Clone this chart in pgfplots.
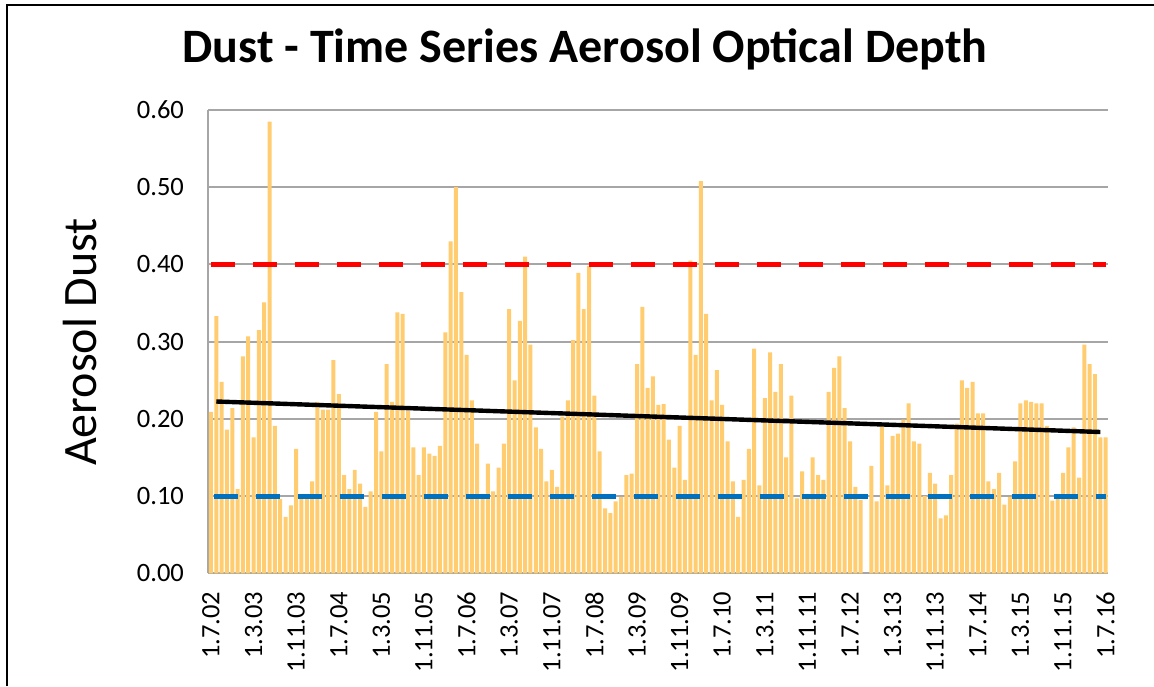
\documentclass[border=0pt]{standalone}
\usepackage{pgfplots}
\pgfplotsset{compat=1.18}
\usepackage{pgfplotstable}
\usepackage{fontspec}
\setmainfont{Carlito}
\definecolor{barcol}{RGB}{255,205,112}
\definecolor{gridgray}{RGB}{166,166,166}
\definecolor{blueline}{RGB}{0,112,192}
\definecolor{redline}{RGB}{255,0,0}
\pgfplotstableread{
x y
1 0.209
2 0.333
3 0.248
4 0.186
5 0.214
6 0.109
7 0.281
8 0.307
9 0.176
10 0.315
11 0.351
12 0.585
13 0.191
14 0.096
15 0.073
16 0.088
17 0.161
18 0.101
19 0.100
20 0.119
21 0.222
22 0.212
23 0.212
24 0.276
25 0.232
26 0.127
27 0.109
28 0.134
29 0.116
30 0.086
31 0.106
32 0.209
33 0.158
34 0.271
35 0.222
36 0.338
37 0.336
38 0.210
39 0.163
40 0.127
41 0.163
42 0.155
43 0.152
44 0.165
45 0.312
46 0.430
47 0.500
48 0.364
49 0.283
50 0.224
51 0.168
52 0.103
53 0.142
54 0.106
55 0.137
56 0.168
57 0.342
58 0.250
59 0.327
60 0.410
61 0.296
62 0.189
63 0.161
64 0.119
65 0.134
66 0.112
67 0.203
68 0.224
69 0.302
70 0.389
71 0.342
72 0.398
73 0.230
74 0.158
75 0.084
76 0.078
77 0.093
78 0.099
79 0.127
80 0.129
81 0.271
82 0.345
83 0.240
84 0.255
85 0.218
86 0.219
87 0.173
88 0.137
89 0.191
90 0.121
91 0.405
92 0.283
93 0.508
94 0.336
95 0.224
96 0.263
97 0.218
98 0.171
99 0.119
100 0.073
101 0.121
102 0.161
103 0.291
104 0.114
105 0.227
106 0.286
107 0.235
108 0.271
109 0.150
110 0.230
111 0.097
112 0.132
113 0.098
114 0.150
115 0.127
116 0.121
117 0.235
118 0.266
119 0.281
120 0.214
121 0.171
122 0.112
123 0.095
125 0.139
126 0.093
127 0.190
128 0.114
129 0.178
130 0.181
131 0.199
132 0.220
133 0.171
134 0.168
135 0.100
136 0.130
137 0.116
138 0.071
139 0.075
140 0.127
141 0.194
142 0.250
143 0.240
144 0.248
145 0.207
146 0.207
147 0.119
148 0.109
149 0.130
150 0.089
151 0.099
152 0.145
153 0.220
154 0.224
155 0.222
156 0.220
157 0.220
158 0.191
159 0.094
160 0.100
161 0.130
162 0.163
163 0.189
164 0.124
165 0.296
166 0.271
167 0.258
168 0.176
169 0.176
}\dusttable
\begin{document}
\begin{tikzpicture}
\useasboundingbox (-104.15pt,-56.35pt) rectangle (472.85pt,286.65pt);
\begin{axis}[
  at={(0pt,0pt)}, anchor=origin,
  scale only axis, width=450pt, height=231.65pt,
  xmin=0.5, xmax=169.5, ymin=0, ymax=0.6,
  axis x line*=bottom, axis y line*=left,
  axis line style={gridgray, line width=1pt},
  ymajorgrids, grid style={gridgray, line width=1pt},
  major tick length=0pt,
  ytick={0,0.1,0.2,0.3,0.4,0.5,0.6},
  /pgf/number format/fixed,
  /pgf/number format/fixed zerofill,
  /pgf/number format/precision=2,
  /pgf/number format/assume math mode=true,
  yticklabel style={inner xsep=12pt, inner ysep=0pt, font=\fontsize{13.25}{15}\selectfont},
  xtick={1,9,...,169},
  xticklabels={1.7.02,1.3.03,1.11.03,1.7.04,1.3.05,1.11.05,1.7.06,1.3.07,1.11.07,1.7.08,1.3.09,1.11.09,1.7.10,1.3.11,1.11.11,1.7.12,1.3.13,1.11.13,1.7.14,1.3.15,1.11.15,1.7.16},
  xticklabel style={rotate=90, anchor=east, inner xsep=9pt, inner ysep=0pt, font=\fontsize{13.25}{15}\selectfont},
  clip=false,
]
\addplot[ybar, bar width=0.75, bar shift=0pt, fill=barcol, draw=none] table[x=x, y=y] {\dusttable};
\addplot[redline, line width=2.5pt, dash pattern=on 12.2pt off 8.8pt] coordinates {(1,0.4) (169,0.4)};
\addplot[blueline, line width=2.5pt, dash pattern=on 12.2pt off 8.8pt, dash phase=-1.5pt] coordinates {(1,0.1) (169,0.1)};
\addplot[black, line width=2.2pt] coordinates {(2,0.2225) (168,0.183)};
\end{axis}
\node[anchor=base, font=\fontsize{24}{27}\selectfont\bfseries] at (188.35pt,255.15pt) {Dust - Time Series Aerosol Optical Depth};
\node[anchor=base, rotate=90, font=\fontsize{24}{28}\selectfont] at (-55.65pt,115.65pt) {Aerosol Dust};
\draw[black, line width=1pt] (-100.65pt,-56.35pt) -- (-100.65pt,284.15pt) -- (472.85pt,284.15pt);
\end{tikzpicture}
\end{document}
